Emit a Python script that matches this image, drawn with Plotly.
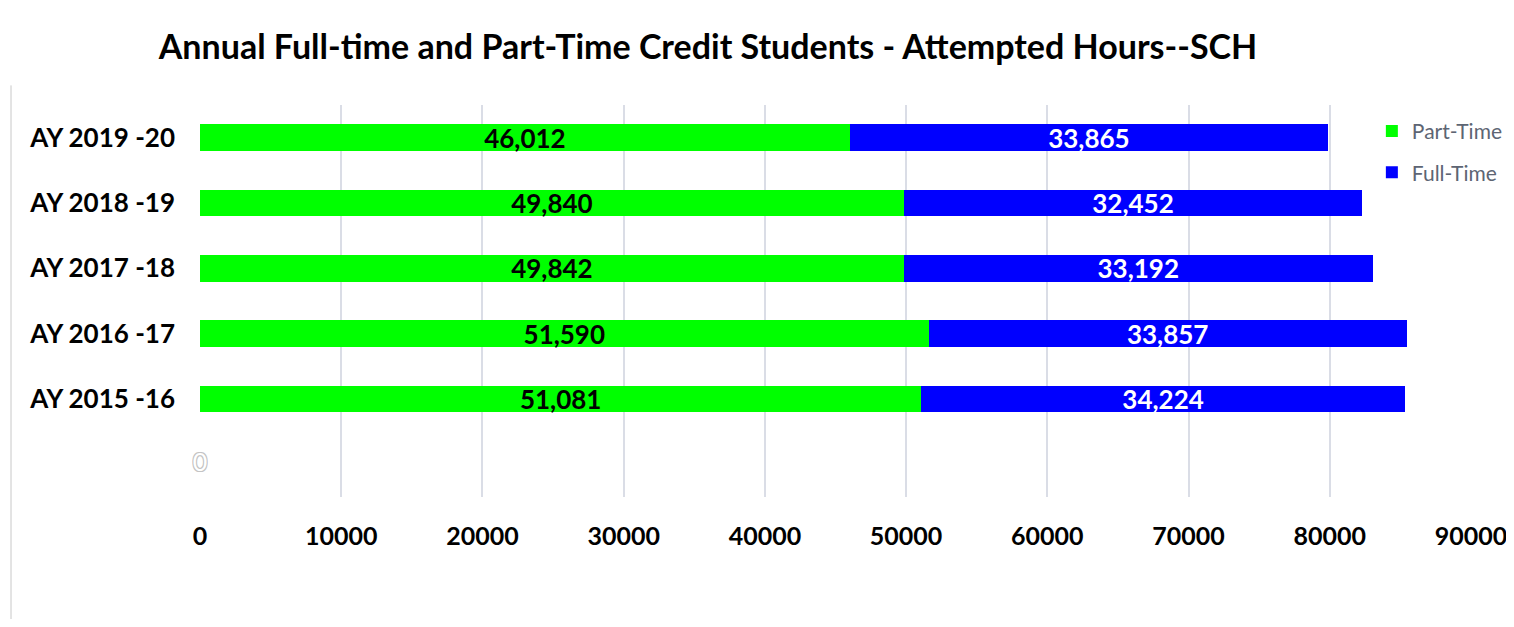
import plotly.graph_objects as go

categories = [" ", "AY 2015 -16", "AY 2016 -17", "AY 2017 -18", "AY 2018 -19", "AY 2019 -20"]
part_time = [0, 51081, 51590, 49842, 49840, 46012]
full_time = [0, 34224, 33857, 33192, 32452, 33865]
x_ticks = [0, 10000, 20000, 30000, 40000, 50000, 60000, 70000, 80000, 90000]

cats_data = categories[1:]
pt_data = part_time[1:]
ft_data = full_time[1:]

FONT = "Lato"

fig = go.Figure()
fig.add_trace(go.Bar(
    y=cats_data, x=pt_data, orientation="h", name="Part-Time", legendgroup="pt",
    marker=dict(color="#00ff00", line=dict(width=0)),
    text=[f"{v:,}" for v in pt_data], textposition="inside",
    insidetextanchor="middle", textangle=0, constraintext="none",
    textfont=dict(family=FONT, size=26, color="black", weight="bold"),
))
fig.add_trace(go.Bar(
    y=cats_data, x=ft_data, orientation="h", name="Full-Time", legendgroup="ft",
    marker=dict(color="#0000ff", line=dict(width=0)),
    text=[f"{v:,}" for v in ft_data], textposition="inside",
    insidetextanchor="middle", textangle=0, constraintext="none",
    textfont=dict(family=FONT, size=26, color="white", weight="bold"),
))
fig.add_trace(go.Scatter(
    y=[categories[0]], x=[part_time[0]], mode="text", text=[str(part_time[0])],
    showlegend=False, hoverinfo="skip", cliponaxis=False,
    textfont=dict(family=FONT, size=25, color="white",
                  shadow="-1px -1px 0 #c4c4c4, 1px -1px 0 #c4c4c4, -1px 1px 0 #c4c4c4, 1px 1px 0 #c4c4c4"),
))

# page body has an 8px margin, so the figure is sized/offset to compensate
fig.update_layout(
    width=1498, height=611,
    margin=dict(l=192, r=35, t=97, b=122, autoexpand=False),
    paper_bgcolor="white", plot_bgcolor="white",
    barmode="stack", bargap=0.587,
    title=dict(text="Annual Full-time and Part-Time Credit Students - Attempted Hours--SCH",
               font=dict(family=FONT, size=34, color="black", weight="bold"),
               xref="container", x=0.4673, xanchor="center",
               yref="container", y=0.936, yanchor="middle"),
    legend=dict(x=0.922, y=0.985, xanchor="left", yanchor="top", traceorder="grouped",
                font=dict(family=FONT, size=21, color="#5d6573"),
                bgcolor="rgba(0,0,0,0)", tracegroupgap=11, itemwidth=30),
    font=dict(family=FONT),
    showlegend=True,
)
fig.update_xaxes(
    range=[0, 90000], tickvals=x_ticks, ticktext=[str(v) for v in x_ticks],
    showgrid=True, gridcolor="#dadde6", gridwidth=2, zeroline=False,
    showline=False, ticks="", ticklabelstandoff=22, automargin=False,
    ticklabeloverflow="allow",
    tickfont=dict(family=FONT, size=25, color="black", weight="bold"),
)
fig.update_yaxes(
    type="category", categoryorder="array", categoryarray=categories,
    range=[-0.5, len(categories) - 0.5],
    showgrid=False, zeroline=False, showline=False, ticks="",
    ticklabelstandoff=24, automargin=False,
    tickfont=dict(family=FONT, size=26, color="black", weight="bold"),
)
fig.add_shape(type="line", xref="paper", yref="paper",
              x0=-0.1487, x1=-0.1487, y0=-0.32, y1=1.05,
              line=dict(color="#c8c8c8", width=1))

fig.write_html("out.html")
